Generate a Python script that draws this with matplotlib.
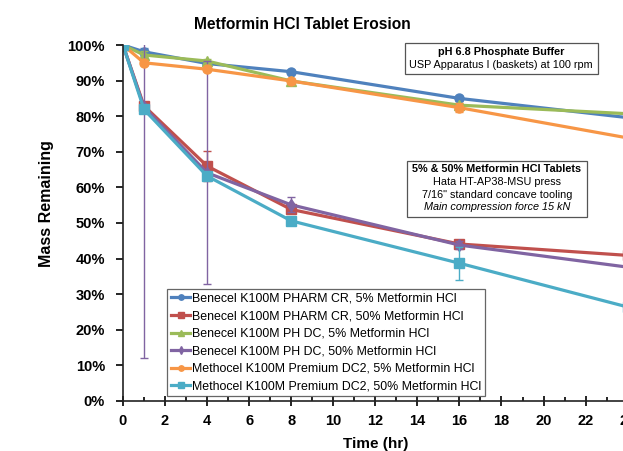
import matplotlib
matplotlib.use("Agg")
import matplotlib.pyplot as plt
from matplotlib.patches import Rectangle
from matplotlib.ticker import MultipleLocator, PercentFormatter

plt.rcParams['font.family'] = ['Liberation Sans', 'DejaVu Sans']

# Data (fraction of mass remaining)
hours = [0, 1, 4, 8, 16, 24]
names = ["Benecel K100M PHARM CR, 5% Metformin HCl",
         "Benecel K100M PHARM CR, 50% Metformin HCl",
         "Benecel K100M PH DC, 5% Metformin HCl",
         "Benecel K100M PH DC, 50% Metformin HCl",
         "Methocel K100M Premium DC2, 5% Metformin HCl",
         "Methocel K100M Premium DC2, 50% Metformin HCl"]
pharm_5 = [1.00, 0.981, 0.948, 0.925, 0.850, 0.796]
pharm_50 = [1.00, 0.829, 0.660, 0.538, 0.441, 0.409]
phdc_5 = [1.00, 0.972, 0.955, 0.899, 0.831, 0.807]
phdc_50 = [1.00, 0.825, 0.641, 0.551, 0.438, 0.376]
dc2_5 = [1.00, 0.950, 0.932, 0.899, 0.824, 0.739]
dc2_50 = [1.00, 0.819, 0.632, 0.506, 0.387, 0.264]

err_pharm_5 = [0, 0.012, 0.005, 0.005, 0.008, 0]
err_pharm_50 = [0, 0.005, 0.043, 0.010, 0.010, 0]
err_phdc_5 = [0, 0.010, 0.006, 0.005, 0.005, 0]
err_phdc_50 = [0, 0.704, 0.313, 0.021, 0.012, 0]
err_dc2_5 = [0, 0.005, 0.005, 0.005, 0.012, 0]
err_dc2_50 = [0, 0.005, 0.010, 0.008, 0.046, 0]

series = [pharm_5, pharm_50, phdc_5, phdc_50, dc2_5, dc2_50]
errors = [err_pharm_5, err_pharm_50, err_phdc_5, err_phdc_50, err_dc2_5, err_dc2_50]
colors = ['#4F81BD', '#C0504D', '#9BBB59', '#8064A2', '#F79646', '#4BACC6']
markers = ['o', 's', '^', 'd', 'o', 's']

fig = plt.figure(figsize=(6.23, 4.51), dpi=100)
ax = fig.add_axes([0.1974, 0.1109, 0.8101, 0.7893])

for y, e, c, m, n in zip(series, errors, colors, markers, names):
    ax.errorbar(hours, y, yerr=e, fmt='none', ecolor=c, elinewidth=1.0,
                capsize=3, capthick=1.0)
    ax.plot(hours, y, color=c, marker=m, markersize=6.5, linewidth=2.3, label=n)

ax.set_xlim(0, 24)
ax.set_ylim(0, 1)
ax.xaxis.set_major_locator(MultipleLocator(2))
ax.xaxis.set_minor_locator(MultipleLocator(1))
ax.yaxis.set_major_locator(MultipleLocator(0.1))
ax.yaxis.set_major_formatter(PercentFormatter(1.0, decimals=0))
for s in ['top', 'right']:
    ax.spines[s].set_visible(False)
for s in ['left', 'bottom']:
    ax.spines[s].set_linewidth(1.2)
    ax.spines[s].set_color('#222222')
ax.tick_params(axis='x', which='major', direction='inout', length=7, width=1.2, pad=6)
ax.tick_params(axis='x', which='minor', direction='in', length=3, width=1.2)
ax.tick_params(axis='y', which='major', direction='out', length=5, width=1.2, pad=8)
for lab in ax.get_xticklabels() + ax.get_yticklabels():
    lab.set_fontweight('bold')
    lab.set_fontsize(10.5)

ax.set_xlabel('Time (hr)', fontsize=11, fontweight='bold', labelpad=6)
fig.text(0.075, 0.549, 'Mass Remaining', rotation=90, fontsize=11.5,
         fontweight='bold', ha='center', va='center')
fig.text(0.485, 0.945, 'Metformin HCl Tablet Erosion', fontsize=11.2,
         fontweight='bold', ha='center', va='center')

leg = ax.legend(loc='upper left', bbox_to_anchor=(167 / 623, 1 - 289 / 451),
                bbox_transform=fig.transFigure, fontsize=8.9, frameon=True,
                fancybox=False, edgecolor='#404040', borderpad=0.3,
                labelspacing=0.45, handlelength=1.6, handletextpad=0.1,
                markerscale=0.6, borderaxespad=0)
leg.get_frame().set_linewidth(0.9)


def add_box(x0, y0, x1, y1):
    # box given in picture pixels from the top-left corner
    fig.patches.append(Rectangle((x0 / 623, 1 - y1 / 451), (x1 - x0) / 623,
                                 (y1 - y0) / 451, transform=fig.transFigure,
                                 fc='white', ec='#555555', lw=0.9, zorder=3))


add_box(405, 43, 598, 74)
fig.text(501 / 623, 1 - 52 / 451, 'pH 6.8 Phosphate Buffer', fontsize=7.8,
         fontweight='bold', ha='center', va='center', zorder=4)
fig.text(501 / 623, 1 - 65 / 451, 'USP Apparatus I (baskets) at 100 rpm',
         fontsize=7.8, ha='center', va='center', zorder=4)

add_box(407, 161, 587, 217)
box2 = [('5% & 50% Metformin HCl Tablets', 'bold', 'normal', 169),
        ('Hata HT-AP38-MSU press', 'normal', 'normal', 182),
        ('7/16" standard concave tooling', 'normal', 'normal', 195),
        ('Main compression force 15 kN', 'normal', 'italic', 207)]
for txt, w, st, yy in box2:
    fig.text(497 / 623, 1 - yy / 451, txt, fontsize=7.8, fontweight=w,
             fontstyle=st, ha='center', va='center', zorder=4)

fig.savefig('out.png', dpi=100)
